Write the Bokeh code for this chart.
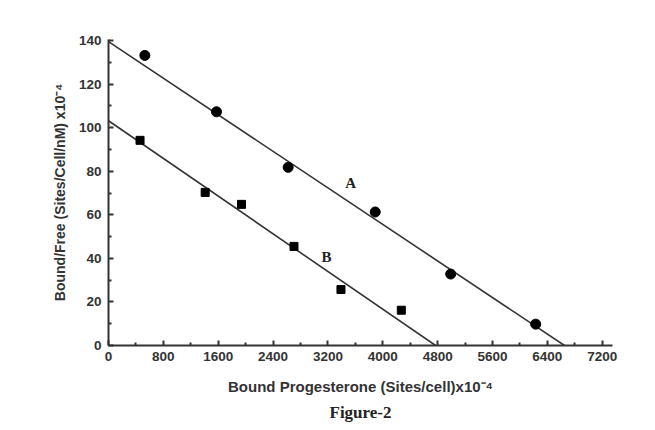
from bokeh.plotting import figure
from bokeh.embed import file_html
from bokeh.resources import INLINE
from bokeh.models import Range1d, Label, FixedTicker, Title

# Series A (circles)
a_x = [530, 1575, 2620, 3890, 4990, 6230]
a_y = [133.2, 107.3, 81.8, 61.3, 32.8, 9.8]
# Series B (squares)
b_x = [460, 1410, 1940, 2705, 3390, 4270]
b_y = [94.2, 70.3, 64.8, 45.5, 25.7, 16.2]
# Fitted regression lines (endpoints: y-intercept, x-intercept)
fit_a_x = [0, 6650]
fit_a_y = [139.5, 0]
fit_b_x = [0, 4770]
fit_b_y = [103.2, 0]

x_ticks = [0, 800, 1600, 2400, 3200, 4000, 4800, 5600, 6400, 7200]
y_ticks = [0, 20, 40, 60, 80, 100, 120, 140]

p = figure(width=639, height=424, output_backend="svg", toolbar_location=None,
           x_range=Range1d(0, 7350), y_range=Range1d(0, 140.5),
           min_border_left=108, min_border_right=27, min_border_top=39, min_border_bottom=20)
p.outline_line_color = None
p.grid.visible = False
p.background_fill_color = "white"

p.line(fit_a_x, fit_a_y, line_color="#333333", line_width=1.6)
p.line(fit_b_x, fit_b_y, line_color="#333333", line_width=1.6)
p.scatter(a_x, a_y, marker="circle", size=10, fill_color="black", line_color="black")
p.scatter(b_x, b_y, marker="square", size=8, fill_color="black", line_color="black")

for ax in (p.xaxis[0], p.yaxis[0]):
    ax.axis_line_width = 2
    ax.axis_line_color = "#333333"
    ax.major_tick_in = 5
    ax.major_tick_out = 0
    ax.minor_tick_in = 3
    ax.minor_tick_out = 0
    ax.major_tick_line_width = 2
    ax.minor_tick_line_width = 2
    ax.major_tick_line_color = "#333333"
    ax.minor_tick_line_color = "#333333"
    ax.major_label_text_font = "Liberation Sans"
    ax.major_label_text_font_style = "bold"
    ax.major_label_text_font_size = "13.5px"
    ax.major_label_text_color = "#333333"
    ax.axis_label_text_font = "Liberation Sans"
    ax.axis_label_text_font_style = "bold"
    ax.axis_label_text_color = "#333333"

p.xaxis[0].axis_label_text_font_size = "15px"
p.yaxis[0].axis_label_text_font_size = "14px"
p.xaxis[0].ticker = FixedTicker(ticks=x_ticks, minor_ticks=[v + 400 for v in x_ticks])
p.yaxis[0].ticker = FixedTicker(ticks=y_ticks, minor_ticks=[v + 10 for v in y_ticks[:-1]])
p.xaxis[0].major_label_standoff = 6
p.yaxis[0].major_label_standoff = 7
p.xaxis[0].axis_label = "Bound Progesterone (Sites/cell)x10\u207b\u2074"
p.yaxis[0].axis_label = "Bound/Free (Sites/Cell/nM) x10\u207b\u2074"
p.xaxis[0].axis_label_standoff = 14
p.yaxis[0].axis_label_standoff = 8

p.add_layout(Label(x=3530, y=74.5, text="A", text_font="Liberation Serif",
                   text_font_style="bold", text_font_size="15px", text_color="#222222",
                   text_align="center", text_baseline="middle"))
p.add_layout(Label(x=3180, y=40.5, text="B", text_font="Liberation Serif",
                   text_font_style="bold", text_font_size="15px", text_color="#222222",
                   text_align="center", text_baseline="middle"))
p.add_layout(Title(text="Figure-2", align="center", offset=-23, standoff=6,
                   text_font="Liberation Serif", text_font_style="bold",
                   text_font_size="17px", text_color="#222222"), "below")

open("out.html", "w").write(file_html(p, INLINE))
